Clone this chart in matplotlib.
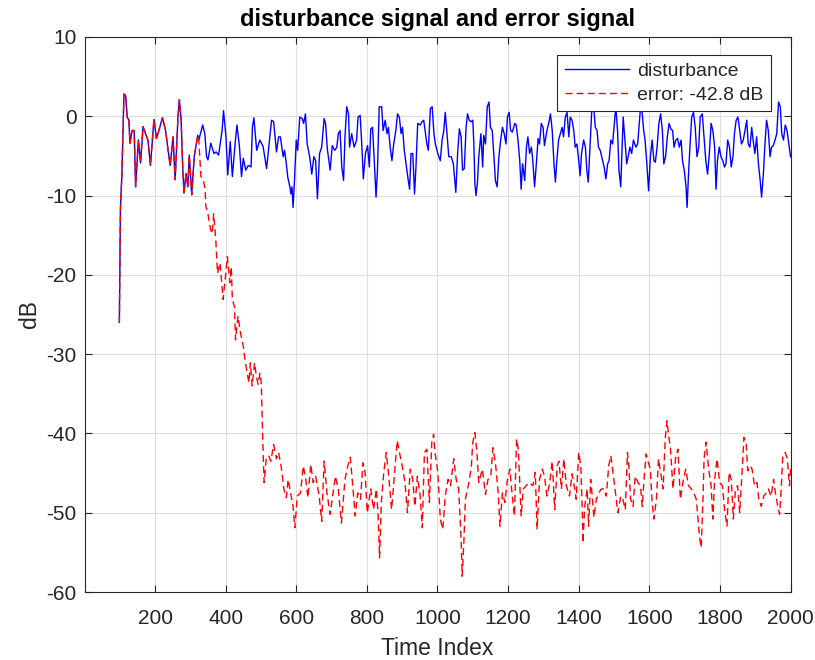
import matplotlib
matplotlib.use("Agg")
import matplotlib.pyplot as plt
import numpy as np

# shared start: error == disturbance before adaptation kicks in
common_t = [99, 102, 104, 106, 112, 117, 121, 126, 129, 135, 141, 145, 153, 159, 166, 173,
            180, 187, 197, 204, 211, 221, 230, 237, 243, 251, 257, 265, 269, 274, 278, 282,
            288, 293, 297, 304, 311, 321, 324]
common_db = [-26, -11.8, -9.5, -7.6, 2.8, 2.6, -0.1, -0.5, -3.4, -1.8, -1.8, -8.9, -3.0, -5.9,
             -1.3, -2.2, -3.0, -6.2, -0.4, -2.8, -1.8, -0.2, -1.8, -4.3, -6.2, -2.6, -8.0,
             -0.1, 2.1, -0.5, -5.9, -9.7, -7.2, -8.9, -4.9, -9.9, -5.1, -2.4, -3.0]

dist_t = [335, 341, 346, 350, 358, 367, 373, 380, 390, 394, 401, 406, 413, 419, 427, 432,
          439, 445, 450, 457, 464, 472, 476, 480, 488, 497, 506, 516, 530, 536, 544, 550,
          555, 563, 567, 573, 576, 582, 585, 588, 591, 595, 600, 604, 610, 617, 621, 626,
          631, 638, 644, 650, 655, 660, 666, 672, 679, 683, 688, 696, 702, 709, 715, 719,
          724, 729, 734, 738, 743, 748, 751, 757, 764, 771, 775, 781, 786, 790, 796, 802,
          807, 811, 816, 821, 826, 830, 835, 842, 846, 852, 857, 861, 866, 871, 876, 882,
          887, 892, 897, 901, 906, 911, 916, 921, 925, 930, 935, 939, 944, 951, 956, 961,
          965, 970, 974, 980, 985, 990, 994, 1001, 1008, 1013, 1018, 1022, 1027, 1032, 1039,
          1045, 1052, 1057, 1062, 1067, 1071, 1076, 1081, 1085, 1090, 1095, 1100, 1103, 1106,
          1109, 1113, 1117, 1123, 1128, 1131, 1136, 1141, 1146, 1150, 1155, 1160, 1164, 1169,
          1174, 1179, 1184, 1189, 1194, 1198, 1203, 1207, 1212, 1219, 1223, 1228, 1233, 1237,
          1241, 1247, 1252, 1256, 1261, 1266, 1270, 1275, 1280, 1285, 1289, 1294, 1299, 1303,
          1310, 1315, 1320, 1325, 1330, 1334, 1338, 1343, 1348, 1353, 1357, 1362, 1367, 1372,
          1376, 1381, 1386, 1390, 1395, 1400, 1404, 1408, 1414, 1419, 1423, 1427, 1432, 1437,
          1442, 1447, 1452, 1456, 1461, 1468, 1472, 1477, 1482, 1486, 1491, 1496, 1500, 1505,
          1510, 1514, 1519, 1526, 1531, 1536, 1540, 1545, 1550, 1555, 1562, 1567, 1574, 1579,
          1584, 1588, 1593, 1598, 1603, 1608, 1613, 1617, 1622, 1627, 1632, 1637, 1641, 1646,
          1651, 1656, 1661, 1666, 1670, 1675, 1680, 1685, 1690, 1694, 1699, 1704, 1707, 1711,
          1715, 1720, 1725, 1730, 1735, 1740, 1744, 1750, 1755, 1760, 1765, 1770, 1775, 1780,
          1785, 1789, 1793, 1798, 1803, 1808, 1813, 1817, 1822, 1827, 1832, 1837, 1841, 1846,
          1851, 1856, 1861, 1866, 1871, 1876, 1880, 1885, 1890, 1894, 1899, 1904, 1909, 1914,
          1918, 1923, 1927, 1932, 1937, 1942, 1946, 1951, 1956, 1961, 1966, 1971, 1975, 1980,
          1985, 1990, 1995, 2000]
dist_db = [-1.1, -2.2, -5.1, -5.5, -3.4, -4.7, -4.5, -4.9, -1.8, 0.7, -2.6, -7.4, -3.2, -7.6,
           -3.4, -1.1, -3.8, -7.6, -5.3, -6.8, -6.2, -6.4, -1.3, -0.2, -4.3, -3.0, -3.8, -6.6,
           -0.5, -0.7, -4.5, -2.6, -2.6, -5.1, -4.3, -6.4, -7.7, -8.9, -9.8, -8.9, -11.5, -8.1,
           -3.0, -4.3, -0.1, -0.3, -0.9, 0.3, -3.5, -5.1, -7.3, -5.1, -5.6, -10.4, -4.7, -3.9,
           -0.3, -0.9, -4.1, -6.8, -3.7, -4.3, -3.9, -2.2, -1.8, -6.4, -8.1, -2.6, 1.2, 0.3,
           -3.9, -2.2, -3.9, -3.0, -0.1, 0.1, -3.9, -7.9, -4.7, -3.7, -6.4, -1.6, -1.4, -5.6,
           -10.2, -6.8, 1.2, 1.2, -1.8, -0.5, -2.2, -1.4, -3.9, -5.6, -3.5, -1.8, 0.3, -0.1,
           -2.2, -1.4, -4.3, -6.0, -7.7, -9.2, -4.7, -4.7, -9.8, -6.4, -0.9, -1.1, -0.7, -0.5,
           -1.8, -3.5, -4.3, 1.0, 1.2, -2.2, -3.5, -4.7, -5.6, -3.0, -1.8, 0.5, -2.2, -5.1,
           -5.1, -6.0, -9.6, -4.7, -1.6, -2.6, -6.8, -6.6, -1.4, 0.3, -0.5, -0.7, -0.5, -3.5,
           -8.5, -10.0, -8.5, -5.1, -2.2, -6.4, -2.4, -3.5, 1.2, 1.8, -1.4, -1.8, -5.1, -8.1,
           -8.9, -5.1, -3.0, -1.4, -2.2, -3.5, -0.1, 0.5, -1.8, -2.0, -0.9, -1.1, -3.0, -5.6,
           -9.2, -6.0, -8.1, -3.9, -2.6, -4.7, -3.9, -5.6, -8.9, -6.0, -2.8, -3.5, -0.9, -1.4,
           -3.7, -1.8, -0.9, 0.3, -1.8, -6.0, -8.3, -5.6, -3.0, -2.2, -1.4, -2.6, -0.1, 0.5,
           -2.6, -0.1, -0.5, -1.8, -3.9, -3.5, -5.6, -7.5, -4.7, -3.0, -3.9, -6.8, -8.3, -3.9,
           0.8, 1.5, -1.4, -1.8, -3.9, -4.3, -5.6, -6.4, -7.9, -6.0, -5.6, -3.0, -3.5, -1.4,
           1.2, -1.8, -6.8, -8.9, -0.1, -3.0, -6.0, -5.1, -3.9, -4.7, -3.0, -3.9, -3.5, 0.5,
           0.8, -1.8, -3.0, -6.0, -9.4, -5.1, -3.0, -5.6, -5.8, -3.9, -0.9, 0.3, -1.8, -6.0,
           -5.1, -2.6, -0.9, -1.6, -1.8, -3.9, -3.0, -2.8, -3.9, -3.0, -5.6, -6.8, -8.9, -11.5,
           -7.3, -3.9, -0.1, 0.5, -1.4, -5.1, -3.9, -0.1, 0.3, -2.6, -5.6, -7.3, -4.7, -0.9,
           -1.8, -3.9, -9.2, -5.6, -3.9, -5.1, -5.6, -6.4, -6.0, -3.0, -3.9, -6.4, -5.1, -2.2,
           -0.5, -0.1, -1.8, -3.5, -3.0, -1.8, -0.5, -3.5, -3.9, -1.4, -3.0, -4.7, -2.6, -6.0,
           -8.1, -10.2, -7.3, -3.9, -0.5, -1.8, -5.1, -3.9, -3.7, -3.0, -2.2, 1.8, 1.2, -2.2,
           -3.0, -1.1, -1.8, -3.5, -5.1]

err_t = [330, 337, 342, 344, 349, 358, 362, 366, 372, 377, 384, 393, 405, 412, 416, 419,
         425, 428, 435, 442, 450, 456, 461, 466, 470, 475, 482, 487, 492, 497, 501, 505,
         509, 515, 522, 528, 536, 544, 550, 557, 565, 572, 577, 584, 591, 596, 603, 612,
         620, 627, 633, 641, 648, 655, 665, 672, 679, 687, 696, 703, 711, 719, 728, 738,
         746, 753, 760, 767, 774, 782, 789, 795, 801, 811, 819, 827, 832, 836, 841, 848,
         855, 862, 870, 877, 886, 894, 900, 908, 915, 923, 930, 936, 943, 951, 957, 963,
         970, 977, 984, 989, 993, 1001, 1008, 1015, 1022, 1030, 1037, 1046, 1053, 1060, 1067,
         1070, 1075, 1079, 1089, 1096, 1100, 1106, 1111, 1117, 1127, 1136, 1143, 1151, 1157,
         1165, 1172, 1177, 1184, 1191, 1198, 1205, 1211, 1218, 1224, 1229, 1237, 1243, 1251,
         1260, 1270, 1277, 1282, 1289, 1297, 1303, 1310, 1318, 1325, 1332, 1339, 1344, 1351,
         1358, 1365, 1374, 1381, 1389, 1393, 1400, 1406, 1410, 1412, 1417, 1424, 1428, 1434,
         1439, 1443, 1450, 1457, 1464, 1472, 1478, 1485, 1491, 1497, 1504, 1511, 1519, 1525,
         1532, 1538, 1542, 1547, 1554, 1560, 1568, 1575, 1580, 1585, 1591, 1596, 1603, 1608,
         1613, 1620, 1626, 1632, 1639, 1645, 1650, 1655, 1660, 1667, 1674, 1681, 1688, 1695,
         1703, 1711, 1719, 1726, 1733, 1738, 1742, 1747, 1752, 1755, 1761, 1768, 1775, 1780,
         1785, 1792, 1799, 1807, 1813, 1820, 1826, 1832, 1838, 1844, 1850, 1856, 1862, 1868,
         1874, 1879, 1886, 1891, 1898, 1905, 1910, 1917, 1924, 1931, 1937, 1945, 1952, 1957,
         1964, 1969, 1974, 1978, 1985, 1991, 1997, 2000]
err_db = [-7.6, -8.0, -9.3, -11.4, -12.1, -14.4, -14.8, -12.3, -15.5, -19.8, -18.5, -23.1,
          -17.7, -21.0, -19.0, -23.1, -24.0, -28.2, -25.2, -27.3, -29.0, -31.1, -32.4, -33.6,
          -31.1, -34.0, -31.1, -32.8, -33.8, -32.4, -33.6, -40.7, -46.2, -43.2, -42.8, -43.5,
          -41.4, -43.2, -42.4, -44.1, -47.0, -48.1, -45.8, -47.5, -49.2, -51.9, -47.9, -47.5,
          -44.1, -45.8, -48.1, -43.9, -46.2, -45.4, -47.9, -51.1, -43.5, -47.5, -50.2, -47.9,
          -45.4, -47.0, -51.3, -45.8, -44.1, -43.0, -46.6, -50.4, -47.5, -48.3, -43.7, -44.9,
          -50.0, -47.0, -49.6, -47.0, -50.4, -55.7, -48.7, -44.9, -42.4, -45.4, -49.6, -45.8,
          -40.9, -42.8, -44.1, -46.2, -50.0, -44.5, -45.8, -49.2, -45.4, -47.9, -51.9, -42.4,
          -42.0, -48.7, -41.1, -40.1, -42.4, -44.9, -50.8, -52.1, -47.9, -45.8, -46.6, -43.2,
          -45.8, -47.0, -53.4, -58.0, -53.4, -48.3, -46.2, -44.1, -41.1, -39.9, -42.0, -46.2,
          -44.5, -47.7, -45.8, -45.4, -41.8, -44.1, -47.5, -51.7, -47.5, -48.7, -45.8, -44.5,
          -47.5, -50.4, -40.7, -42.0, -50.4, -47.0, -46.6, -46.2, -46.6, -44.9, -52.1, -45.8,
          -44.5, -45.4, -47.9, -46.2, -43.5, -49.6, -44.1, -43.5, -47.0, -43.2, -46.6, -47.9,
          -45.1, -47.0, -48.3, -42.4, -44.1, -49.6, -53.8, -49.2, -47.0, -51.7, -45.8, -48.3,
          -50.6, -48.3, -47.5, -47.0, -47.0, -47.9, -44.1, -42.8, -44.9, -47.5, -50.0, -47.9,
          -48.3, -49.6, -42.4, -44.1, -48.3, -49.2, -45.4, -46.2, -46.6, -49.2, -45.8, -42.6,
          -43.5, -44.5, -48.7, -50.8, -48.3, -43.2, -44.9, -47.0, -40.7, -38.4, -40.3, -42.0,
          -47.0, -43.2, -42.0, -48.3, -46.2, -44.5, -46.6, -47.0, -47.5, -48.3, -50.8, -53.0,
          -54.4, -48.3, -43.2, -41.1, -44.5, -46.6, -50.8, -45.8, -43.2, -46.2, -46.6, -49.6,
          -51.7, -44.9, -45.8, -50.8, -47.0, -46.6, -50.0, -45.4, -40.5, -41.1, -44.7, -44.1,
          -44.5, -46.6, -46.2, -48.3, -49.2, -47.9, -47.5, -47.0, -47.9, -45.8, -47.5, -49.2,
          -50.2, -46.6, -42.8, -42.4, -43.2, -46.6, -44.5]

x_ticks = [200, 400, 600, 800, 1000, 1200, 1400, 1600, 1800, 2000]
y_ticks = [-60, -50, -40, -30, -20, -10, 0, 10]
err_level = -42.8

dark = '#262626'
plt.rcParams['font.family'] = ['Liberation Sans', 'DejaVu Sans']
plt.rcParams['axes.unicode_minus'] = False

fig = plt.figure(figsize=(8.15, 6.6), dpi=100)
ax = fig.add_axes([0.104, 0.103, 0.866, 0.841])

ax.plot(common_t + dist_t, common_db + dist_db, color='b', lw=1.0, label='disturbance')
ax.plot(common_t + err_t, common_db + err_db, color='r', lw=1.0, ls=(0, (5, 3)),
        label='error: %.1f dB' % err_level)

ax.set_xlim(1, 2000)
ax.set_ylim(-60, 10)
ax.set_xticks(x_ticks)
ax.set_yticks(y_ticks)
ax.grid(True, color='#dedede', lw=0.8)
ax.set_axisbelow(True)
ax.tick_params(direction='in', top=True, right=True, labelsize=15, colors=dark, length=5)
ax.tick_params(axis='x', pad=12)
ax.tick_params(axis='y', pad=6)
for s in ax.spines.values():
    s.set_color(dark)
    s.set_linewidth(0.8)

ax.set_xlabel('Time Index', fontsize=16.5, color=dark, labelpad=7)
ax.set_ylabel('dB', fontsize=16.5, color=dark)
ax.set_title('disturbance signal and error signal', fontsize=17, fontweight='bold',
             color='black', pad=8)

leg = ax.legend(loc='upper right', bbox_to_anchor=(0.972, 0.968), borderaxespad=0,
                fancybox=False, edgecolor=dark, framealpha=1, fontsize=14,
                handlelength=3.3, handletextpad=0.4, labelspacing=0.3, borderpad=0.4)
leg.get_frame().set_linewidth(0.8)
for t in leg.get_texts():
    t.set_color(dark)

fig.savefig('out.png', dpi=100)
